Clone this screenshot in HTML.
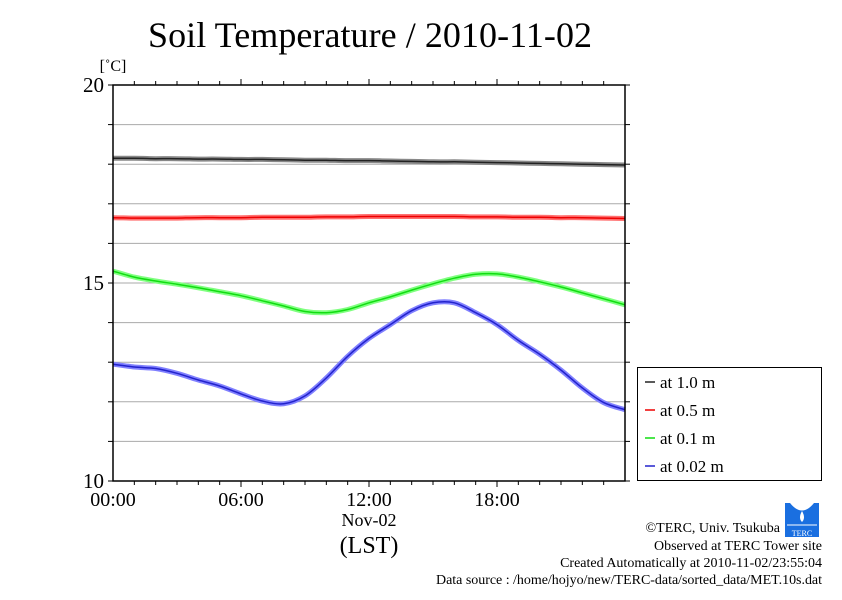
<!DOCTYPE html>
<html><head><meta charset="utf-8"><style>
body{margin:0;background:#fff;}
svg text{font-family:"Liberation Serif",serif;}
</style></head><body>
<svg id="c" width="842" height="595" xmlns="http://www.w3.org/2000/svg">
<text x="370" y="47" font-size="36" text-anchor="middle" textLength="444">Soil Temperature / 2010-11-02</text>
<text x="113" y="71" font-size="16" text-anchor="middle">[˚C]</text>
<g id="grid"></g>
<g id="series"></g>
<rect x="113" y="85" width="512" height="396" fill="none" stroke="#000" stroke-width="1.5"/>
<g id="axes"></g>
<text x="369" y="526" font-size="18" text-anchor="middle">Nov-02</text>
<text x="369" y="553" font-size="24" text-anchor="middle">(LST)</text>
<g>
<rect x="637.5" y="367.5" width="184" height="113" fill="#fff" stroke="#000" stroke-width="1"/>
<g id="legend"></g>
</g>
<g>
<rect x="785" y="503" width="34" height="34" fill="#1a6fe0"/>
<path d="M790 503 Q802 518 814 503 Z" fill="#fff"/>
<path d="M802 511 Q798 518 802 522 Q806 518 802 511Z" fill="#fff"/>
<line x1="787" y1="525" x2="817" y2="525" stroke="#fff" stroke-width="1"/>
<text x="802" y="536" font-size="8" fill="#fff" text-anchor="middle" font-family="Liberation Sans, sans-serif">TERC</text>
</g>
<g font-size="14" text-anchor="end">
<text x="780" y="532">©TERC, Univ. Tsukuba</text>
<text x="822" y="550">Observed at TERC Tower site</text>
<text x="822" y="567">Created Automatically at 2010-11-02/23:55:04</text>
<text x="822" y="584" textLength="386">Data source : /home/hojyo/new/TERC-data/sorted_data/MET.10s.dat</text>
</g>
</svg>
<script>
const hours=[0,1,2,3,4,5,6,7,8,9,10,11,12,13,14,15,16,17,18,19,20,21,22,23,24];
const t100=[18.15,18.15,18.14,18.14,18.13,18.13,18.12,18.12,18.11,18.1,18.1,18.09,18.09,18.08,18.07,18.06,18.06,18.05,18.04,18.03,18.02,18.01,18.0,17.99,17.98];
const t050=[16.65,16.64,16.64,16.64,16.65,16.65,16.65,16.66,16.66,16.66,16.67,16.67,16.68,16.68,16.68,16.68,16.68,16.67,16.67,16.66,16.66,16.65,16.65,16.64,16.63];
const t010=[15.3,15.15,15.05,14.97,14.88,14.78,14.68,14.55,14.42,14.28,14.25,14.33,14.5,14.65,14.82,14.98,15.12,15.22,15.23,15.15,15.03,14.9,14.75,14.6,14.45];
const t002=[12.95,12.88,12.84,12.72,12.55,12.4,12.2,12.02,11.95,12.15,12.6,13.15,13.6,13.95,14.3,14.5,14.5,14.25,13.95,13.55,13.2,12.8,12.35,11.98,11.8];
const yTicks=[10,15,20];
const xTickLabels=["00:00","06:00","12:00","18:00"];
const legendLabels=["at 1.0 m","at 0.5 m","at 0.1 m","at 0.02 m"];
const NS="http://www.w3.org/2000/svg";
const X=h=>113+h*512/24, Y=t=>481-(t-10)*39.6;
function mk(tag,attrs,parent){const e=document.createElementNS(NS,tag);for(const k in attrs)e.setAttribute(k,attrs[k]);parent.appendChild(e);return e;}
function smooth(vals){const p=vals.map((v,j)=>[X(hours[j]),Y(v)]);let d='M'+p[0][0].toFixed(1)+' '+p[0][1].toFixed(1);
for(let i=0;i<p.length-1;i++){const p0=p[Math.max(i-1,0)],p1=p[i],p2=p[i+1],p3=p[Math.min(i+2,p.length-1)];
const c1=[p1[0]+(p2[0]-p0[0])/6,p1[1]+(p2[1]-p0[1])/6],c2=[p2[0]-(p3[0]-p1[0])/6,p2[1]-(p3[1]-p1[1])/6];
d+=' C'+c1.map(n=>n.toFixed(1)).join(' ')+' '+c2.map(n=>n.toFixed(1)).join(' ')+' '+p2[0].toFixed(1)+' '+p2[1].toFixed(1);}
return d;}
const grid=document.getElementById('grid'),axes=document.getElementById('axes'),ser=document.getElementById('series'),leg=document.getElementById('legend');
for(let t=11;t<20;t++){const l=mk('line',{x1:113,x2:625,y1:Y(t),y2:Y(t),stroke:'#aaa','stroke-width':1},grid);

}
for(let h=1;h<24;h++){const len=h%6==0?6:4;
mk('line',{x1:X(h),x2:X(h),y1:85,y2:85-len,stroke:'#000'},axes);
mk('line',{x1:X(h),x2:X(h),y1:481,y2:481+len,stroke:'#000'},axes);}
for(let t=10;t<=20;t++){mk('line',{x1:113,x2:108,y1:Y(t),y2:Y(t),stroke:'#000'},axes);mk('line',{x1:625,x2:630,y1:Y(t),y2:Y(t),stroke:'#000'},axes);}
yTicks.forEach(t=>{const e=mk('text',{x:104,y:Y(t)+7,'font-size':21,'text-anchor':'end'},axes);e.textContent=t;

});
xTickLabels.forEach((s,i)=>{const e=mk('text',{x:X(i*6),y:506,'font-size':20,'text-anchor':'middle'},axes);e.textContent=s;

});
const series=[[t100,'#888','#222'],[t050,'#ff7070','#e00'],[t010,'#80ff80','#1d1'],[t002,'#8080ff','#22c']];
series.forEach((s,i)=>{const d=smooth(s[0]);
const a=mk('path',{d:d,fill:'none',stroke:s[1],'stroke-width':5,'stroke-linejoin':'round'},ser);


mk('path',{d:d,fill:'none',stroke:s[2],'stroke-width':1.5},ser);
const y=382+i*28;
mk('line',{x1:645,x2:655,y1:y,y2:y,stroke:s[2],'stroke-width':1.5},leg);
const tx=mk('text',{x:660,y:y+6,'font-size':17},leg);tx.textContent=legendLabels[i];

});
</script>
</body></html>
